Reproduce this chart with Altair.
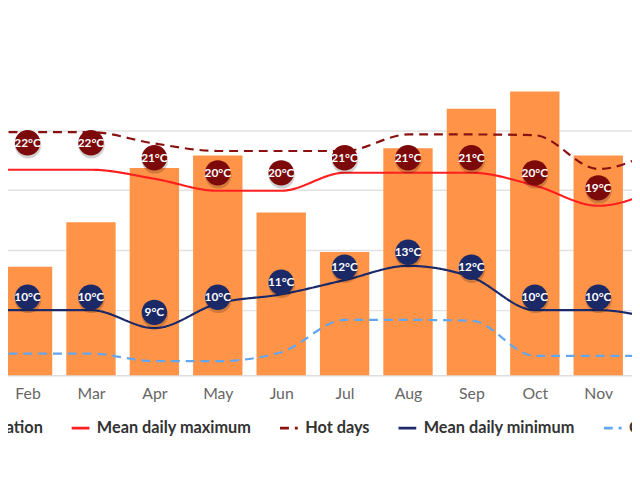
import altair as alt
import pandas as pd

months = ["Jan", "Feb", "Mar", "Apr", "May", "Jun", "Jul", "Aug", "Sep", "Oct", "Nov", "Dec"]
precipitation = [40, 44, 62, 84, 89, 66, 50, 92, 108, 115, 89, 46]
mean_max = [19.35, 19.35, 19.35, 18.75, 17.95, 17.95, 19.15, 19.15, 19.15, 18.3, 16.95, 18.2]
hot_days = [21.85, 21.85, 21.85, 21.1, 20.6, 20.6, 20.6, 21.7, 21.7, 21.65, 19.4, 20.9]
mean_min = [10.0, 10.0, 10.0, 8.8, 10.45, 11.05, 12.0, 12.95, 12.2, 10.0, 10.0, 9.3]
cold_nights = [7.1, 7.1, 7.1, 6.6, 6.6, 7.2, 9.35, 9.35, 9.3, 6.95, 6.95, 6.95]
max_labels = [22, 22, 22, 21, 20, 20, 21, 21, 21, 20, 19, 20]
min_labels = [10, 10, 10, 9, 10, 11, 12, 13, 12, 10, 10, 9]

series_names = ["Precipitation", "Mean daily maximum", "Hot days", "Mean daily minimum", "Cold nights"]
series_colors = ["#ff9448", "#ff1f1f", "#8b1111", "#1c2a69", "#62a6ef"]
series_dash = [[1, 0], [1, 0], [9, 6], [1, 0], [9, 6]]

idx = list(range(1, 13))
bars_df = pd.DataFrame({"m": idx, "month": months, "precip": precipitation,
                        "series": "Precipitation"})
lines_df = pd.concat([
    pd.DataFrame({"m": idx, "value": mean_max, "series": "Mean daily maximum"}),
    pd.DataFrame({"m": idx, "value": hot_days, "series": "Hot days"}),
    pd.DataFrame({"m": idx, "value": mean_min, "series": "Mean daily minimum"}),
    pd.DataFrame({"m": idx, "value": cold_nights, "series": "Cold nights"}),
])
max_df = pd.DataFrame({"m": idx, "v": max_labels})
min_df = pd.DataFrame({"m": idx, "v": min_labels})

FONT = "Lato"
month_expr = "['Jan','Feb','Mar','Apr','May','Jun','Jul','Aug','Sep','Oct','Nov','Dec'][datum.value - 1]"

xscale = alt.Scale(domain=[1, 12], range=[-44.4, 662], nice=False, zero=False, padding=0)
xaxis = alt.Axis(values=idx, labelExpr=month_expr, title=None, ticks=False, tickSize=0,
                 grid=False, domain=True, domainColor="#dddddd", domainWidth=1.5,
                 labelFont=FONT, labelFontSize=16, labelColor="#666666", labelPadding=10)
X = alt.X("m:Q", scale=xscale, axis=xaxis)

temp_scale = alt.Scale(domain=[10, 22], range=[303, 120.5], nice=False, zero=False)
temp_axis = alt.Axis(values=[10, 14, 18, 22, 26], grid=True, labels=False, ticks=False,
                     domain=False, gridColor="#e2e2e2", gridWidth=1.5, title=None)
precip_scale = alt.Scale(domain=[0, 140], range=[369, 19], nice=False, zero=True)

color_scale = alt.Scale(domain=series_names, range=series_colors)
dash_scale = alt.Scale(domain=series_names, range=series_dash)
legend = alt.Legend(title=None, orient="none", legendX=-86, legendY=412,
                    direction="horizontal", columns=5, symbolType="stroke",
                    symbolSize=324, symbolStrokeWidth=3, labelOffset=6,
                    columnPadding=22, labelFont=FONT, labelFontSize=16.5,
                    labelFontWeight="bold", labelColor="#333333", padding=0,
                    labelLimit=400)

bars = alt.Chart(bars_df).mark_bar(size=50).encode(
    x=X,
    y=alt.Y("precip:Q", scale=precip_scale, axis=None),
    color=alt.Color("series:N", scale=color_scale, legend=legend),
)

lines = alt.Chart(lines_df).mark_line(interpolate="monotone", strokeWidth=2.2).encode(
    x=X,
    y=alt.Y("value:Q", scale=temp_scale, axis=temp_axis),
    color=alt.Color("series:N", scale=color_scale, legend=legend),
    strokeDash=alt.StrokeDash("series:N", scale=dash_scale, legend=legend),
)


def bubbles(df, fill, dy):
    base = alt.Chart(df).encode(
        x=X,
        y=alt.Y("v:Q", scale=temp_scale, axis=temp_axis),
    )
    shadow = base.mark_circle(size=720, color="#000000", opacity=0.18, yOffset=dy + 2.5, xOffset=0.5)
    circ = base.mark_circle(size=660, color=fill, opacity=1, yOffset=dy)
    txt = base.transform_calculate(lbl="datum.v + '°C'").mark_text(
        color="white", font=FONT, fontSize=12, fontWeight="bold", yOffset=dy
    ).encode(text="lbl:N")
    return [shadow, circ, txt]


temp_layer = alt.layer(lines, *bubbles(max_df, "#7d0a0a", 13), *bubbles(min_df, "#1b2966", -13))

chart = alt.layer(bars, temp_layer).resolve_scale(y="independent").properties(
    width=632, height=369,
    autosize=alt.AutoSizeParams(type="none"),
    padding={"left": 0, "right": 0, "top": 0, "bottom": 101},
    background="white",
).configure_view(stroke=None)

chart.save("out.html", embed_options={"renderer": "svg", "actions": False})
